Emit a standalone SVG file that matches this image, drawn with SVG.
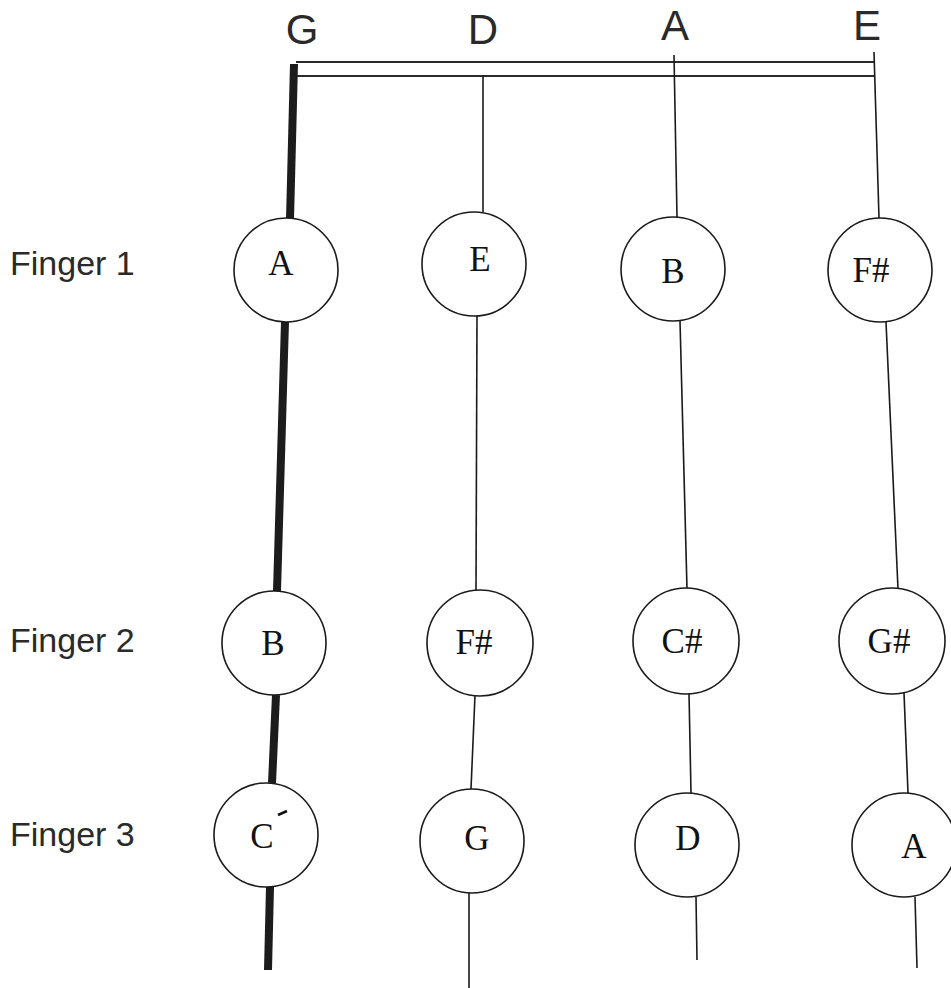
<svg xmlns="http://www.w3.org/2000/svg" width="951" height="988" viewBox="0 0 951 988">
<style>
.bg{fill:#ffffff}
.str{fill:none;stroke:#1a1a1a;stroke-width:1.6;stroke-linecap:butt}
.thick{fill:none;stroke:#1c1c1c;stroke-width:8;stroke-linecap:butt}
.bar{fill:none;stroke:#2a2a2a;stroke-width:1.8}
.note{fill:#ffffff;stroke:#1a1a1a;stroke-width:1.6}
.nt{font-family:"Liberation Serif","Times New Roman",serif;font-size:35px;fill:#111;text-anchor:middle}
.hd{font-family:"Liberation Sans",Arial,sans-serif;font-size:42px;fill:#2a2a2a;text-anchor:middle}
.rl{font-family:"Liberation Sans",Arial,sans-serif;font-size:34px;fill:#2a2a2a}
</style>
<rect class="bg" x="0" y="0" width="951" height="988"/>

<g id="headers">
<text class="hd" x="302" y="44">G</text>
<text class="hd" x="483" y="44">D</text>
<text class="hd" x="675" y="40">A</text>
<text class="hd" x="867" y="40">E</text>
</g>

<g id="row-labels">
<text class="rl" x="10" y="275">Finger 1</text>
<text class="rl" x="10" y="652">Finger 2</text>
<text class="rl" x="10" y="846">Finger 3</text>
</g>

<g id="connectors">
<line class="bar" x1="296" y1="62" x2="875" y2="62"/>
<line class="bar" x1="296" y1="76" x2="875" y2="76"/>
<path class="thick" d="M294 64 L290 219"/>
<path class="thick" d="M285 322 L277 591"/>
<path class="thick" d="M276 695 L272 783"/>
<path class="thick" d="M270 887 L268 970"/>
<line class="str" x1="483" y1="76" x2="483" y2="212"/>
<line class="str" x1="477" y1="316" x2="476" y2="591"/>
<line class="str" x1="475" y1="695" x2="471" y2="789"/>
<line class="str" x1="469" y1="893" x2="469" y2="988"/>
<line class="str" x1="674" y1="55" x2="677" y2="217"/>
<line class="str" x1="680" y1="321" x2="687" y2="589"/>
<line class="str" x1="689" y1="693" x2="691" y2="793"/>
<line class="str" x1="696" y1="897" x2="697" y2="960"/>
<line class="str" x1="874" y1="52" x2="879" y2="218"/>
<line class="str" x1="886" y1="322" x2="898" y2="589"/>
<line class="str" x1="904" y1="693" x2="908" y2="793"/>
<line class="str" x1="915" y1="897" x2="917" y2="968"/>
</g>

<g id="G-f1"><circle class="note" cx="286" cy="270" r="52"/><text class="nt" x="281" y="275">A</text></g>
<g id="D-f1"><circle class="note" cx="474" cy="264" r="52"/><text class="nt" x="480" y="271">E</text></g>
<g id="A-f1"><circle class="note" cx="673" cy="269" r="52"/><text class="nt" x="673" y="283">B</text></g>
<g id="E-f1"><circle class="note" cx="880" cy="270" r="52"/><text class="nt" x="871" y="282">F#</text></g>

<g id="G-f2"><circle class="note" cx="274" cy="643" r="52"/><text class="nt" x="273" y="655">B</text></g>
<g id="D-f2"><circle class="note" cx="480" cy="643" r="53"/><text class="nt" x="474" y="654">F#</text></g>
<g id="A-f2"><circle class="note" cx="686" cy="641" r="53"/><text class="nt" x="682" y="653">C#</text></g>
<g id="E-f2"><circle class="note" cx="892" cy="641" r="53"/><text class="nt" x="889" y="653">G#</text></g>

<g id="G-f3"><circle class="note" cx="266" cy="835" r="52"/><text class="nt" x="262" y="848">C</text><line x1="278" y1="815" x2="287" y2="811" stroke="#111" stroke-width="2.5"/></g>
<g id="D-f3"><circle class="note" cx="472" cy="841" r="52"/><text class="nt" x="477" y="850">G</text></g>
<g id="A-f3"><circle class="note" cx="687" cy="845" r="52"/><text class="nt" x="688" y="850">D</text></g>
<g id="E-f3"><circle class="note" cx="904" cy="845" r="52"/><text class="nt" x="914" y="858">A</text></g>
</svg>
